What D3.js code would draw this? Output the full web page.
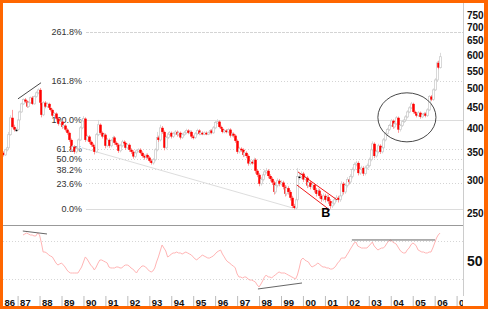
<!DOCTYPE html>
<html>
<head>
<meta charset="utf-8">
<script src="https://cdnjs.cloudflare.com/ajax/libs/d3/7.8.5/d3.min.js"></script>
<style>
html, body { margin: 0; padding: 0; background: #fff; }
svg { display: block; font-family: "Liberation Sans", Arial, sans-serif; }
</style>
</head>
<body>
<svg class="main" width="488" height="309"></svg>
<script>
// monthly candles, first one is May 1986
var startYear = 1986,
    startMonth = 4,
    firstOpen = 349;

var closes = [
    345, 355, 359, 386, 424, 403, 397, 397,
    419, 438, 458, 469, 464, 451, 461, 474, 458, 477, 487, 495,
    461, 431, 461, 451, 458, 448, 443, 429, 434, 422, 410, 415,
    403, 406, 397, 390, 375, 355, 361, 351, 357, 375, 401, 417,
    422, 375, 382, 371, 365, 361, 351, 386, 408, 390, 382, 386,
    363, 375, 363, 373, 380, 369, 365, 353, 363, 371, 369, 359,
    365, 355, 351, 342, 349, 353, 355, 349, 343, 340, 345, 340,
    334, 330, 336, 355, 380, 375, 401, 392, 359, 380, 388, 390,
    382, 388, 392, 386, 390, 380, 386, 390, 395, 390, 392, 382,
    380, 388, 395, 388, 390, 388, 390, 388, 390, 395, 390, 401,
    413, 415, 403, 399, 392, 395, 392, 397, 384, 388, 384, 373,
    351, 357, 355, 345, 349, 343, 329, 332, 330, 336, 316, 309,
    294, 301, 309, 314, 316, 307, 302, 296, 281, 291, 299, 294,
    296, 289, 278, 287, 281, 272, 260, 257, 269, 306, 306, 311,
    301, 304, 291, 296, 289, 292, 284, 278, 283, 275, 270, 275,
    269, 273, 267, 260, 264, 269, 272, 269, 275, 294, 281, 291,
    301, 297, 306, 318, 327, 330, 312, 318, 321, 311, 321, 325,
    336, 355, 367, 343, 351, 363, 351, 359, 375, 388, 397, 406,
    417, 403, 410, 424, 397, 406, 415, 419, 426, 438, 448, 458,
    438, 434, 429, 436, 426, 431, 434, 429, 443, 477, 469, 495,
    523, 575, 560, 595
];

var highs = [
    352, 357, 362, 392, 430, 443, 408, 401,
    421, 441, 461, 472, 473, 467, 464, 477, 478, 480, 491, 499,
    500, 464, 465, 465, 462, 461, 451, 446, 437, 437, 425, 418,
    418, 409, 409, 400, 393, 378, 364, 364, 360, 378, 405, 421,
    428, 425, 386, 385, 374, 368, 364, 390, 419, 411, 393, 390,
    389, 379, 378, 377, 384, 383, 372, 368, 367, 375, 374, 372,
    368, 368, 358, 354, 352, 356, 358, 358, 352, 346, 348, 348,
    343, 337, 339, 358, 392, 384, 408, 405, 395, 384, 392, 394,
    393, 392, 396, 395, 394, 393, 390, 394, 399, 398, 396, 395,
    385, 392, 399, 398, 393, 393, 393, 393, 393, 398, 398, 405,
    417, 421, 418, 406, 402, 398, 398, 400, 400, 391, 391, 387,
    376, 361, 360, 358, 353, 352, 346, 336, 335, 340, 339, 319,
    312, 305, 313, 318, 321, 319, 310, 305, 299, 295, 303, 302,
    300, 299, 292, 291, 290, 284, 275, 263, 273, 321, 312, 315,
    314, 308, 307, 300, 299, 296, 295, 287, 287, 286, 278, 279,
    278, 277, 276, 270, 268, 273, 276, 275, 279, 298, 297, 295,
    305, 304, 310, 322, 331, 334, 333, 322, 325, 324, 325, 329,
    340, 359, 372, 370, 355, 367, 366, 363, 379, 392, 401, 410,
    421, 420, 414, 428, 427, 410, 419, 423, 430, 442, 452, 463,
    461, 441, 437, 440, 439, 435, 438, 437, 447, 481, 481, 499,
    528, 580, 582, 608
];

var lows = [
    342, 343, 352, 357, 384, 400, 393, 392,
    395, 416, 436, 455, 460, 448, 448, 458, 455, 456, 474, 483,
    455, 425, 428, 447, 448, 444, 439, 425, 426, 418, 406, 407,
    399, 400, 393, 386, 371, 351, 352, 347, 348, 355, 373, 398,
    414, 371, 372, 367, 361, 357, 346, 349, 383, 386, 378, 379,
    358, 360, 359, 360, 370, 365, 361, 349, 350, 360, 366, 355,
    356, 351, 347, 338, 339, 346, 350, 346, 340, 336, 337, 337,
    331, 327, 327, 333, 352, 371, 372, 388, 354, 356, 377, 385,
    378, 379, 385, 382, 383, 376, 377, 383, 387, 387, 387, 378,
    376, 377, 385, 385, 385, 385, 385, 385, 385, 387, 387, 388,
    398, 410, 400, 396, 389, 389, 389, 389, 380, 381, 380, 369,
    347, 348, 351, 341, 342, 339, 325, 326, 327, 327, 311, 305,
    290, 291, 298, 306, 311, 303, 298, 292, 277, 278, 288, 290,
    291, 285, 274, 275, 277, 268, 257, 255, 255, 266, 300, 302,
    297, 298, 287, 288, 285, 286, 280, 274, 275, 271, 266, 267,
    265, 266, 263, 256, 257, 261, 266, 265, 266, 272, 277, 278,
    288, 293, 294, 303, 315, 324, 308, 309, 315, 307, 308, 318,
    322, 333, 352, 339, 340, 348, 347, 348, 356, 372, 385, 394,
    403, 399, 400, 407, 390, 393, 403, 412, 416, 423, 435, 445,
    434, 430, 425, 426, 422, 423, 428, 425, 426, 440, 465, 466,
    492, 520, 555, 557
];

// indicator, starts with the 12th candle (Apr 1987)
var rsiStart = 11;
var rsi = [
    76.3, 77.4, 78.4, 77.4, 76.3, 76.3, 75.3, 75.3, 78.4,
    76.3, 67.9, 58.4, 58.4, 57.4, 55.3, 54.2, 53.2, 50, 46.8, 44.7, 45.8,
    46.8, 44.7, 42.6, 39.5, 37.4, 36.3, 36.3, 36.3, 36.3, 36.3, 39.5, 42.6,
    47.9, 53.2, 51.1, 47.9, 44.7, 42.6, 39.5, 42.6, 46.8, 50, 50, 48.9,
    47.9, 46.8, 42.6, 41.6, 41.6, 41.6, 42.6, 42.6, 41.6, 41.6, 43.7, 44.7,
    44.7, 43.7, 41.6, 40.5, 38.4, 36.3, 39.5, 41.6, 43.7, 43.7, 42.6, 40.5,
    38.4, 37.4, 38.4, 41.6, 47.9, 53.2, 59.5, 65.8, 62.6, 59.5, 53.2, 54.2,
    56.3, 57.4, 57.4, 58.4, 57.4, 57.4, 56.3, 57.4, 58.4, 57.4, 56.3, 55.3,
    53.2, 51.1, 50, 52.1, 53.2, 55.3, 54.2, 53.2, 52.1, 52.1, 53.2, 54.2,
    56.3, 58.4, 59.5, 60.5, 56.3, 53.2, 50, 47.9, 46.8, 44.7, 43.7, 41.6,
    35.3, 32.1, 32.1, 31.1, 32.1, 32.1, 30, 28.9, 28.9, 27.9, 26.8, 23.7,
    21.6, 24.7, 27.9, 32.1, 34.2, 32.1, 32.1, 31.1, 33.2, 34.2, 36.3, 37.4,
    36.3, 36.3, 36.3, 35.3, 34.2, 33.2, 32.1, 31.1, 30, 34.2, 41.6, 50,
    52.1, 50, 48.9, 47.9, 44.7, 42.6, 43.7, 44.7, 46.8, 45.8, 43.7, 42.6,
    42.6, 41.6, 41.6, 40.5, 40.5, 41.6, 43.7, 46.8, 48.9, 52.1, 52.1, 52.1,
    55.3, 58.4, 61.6, 64.7, 67.9, 68.9, 64.7, 63.7, 62.6, 62.6, 62.6, 62.6,
    64.7, 66.8, 68.9, 64.7, 62.6, 60.5, 61.6, 62.6, 62.6, 64.7, 67.9, 70,
    71.1, 68.9, 67.9, 66.8, 63.7, 60.5, 58.4, 57.4, 57.4, 60.5, 62.6, 65.8,
    67.9, 66.8, 64.7, 60.5, 59.5, 58.4, 58.4, 57.4, 57.4, 58.4, 58.4, 62.6,
    67.9, 73.2, 76.3, 78.4
];

var priceTicks = [250, 300, 350, 400, 450, 500, 550, 600, 650, 700, 750];
var rsiTicks = [50];
var rsiGrid = [30, 70];
var years = d3.range(1986, 2008);

// retracement from the 1999 low to the 1990 high
var fibLow = 256,
    fibHigh = 419;
var fibLevels = [0, 0.236, 0.382, 0.5, 0.618, 1, 1.618, 2.618];
var fibLabels = ["0.0%", "23.6%", "38.2%", "50.0%", "61.8%", "100.0%", "161.8%", "261.8%"];

// hand drawn annotations, [month index, value]
var priceLines = [
    { from: [8.2, 471], to: [20.8, 515], color: "#333" },
    { from: [43.2, 359], to: [158.6, 257], color: "#d4d4d4" },
    { from: [161.3, 314], to: [182.6, 269], color: "#e00" },
    { from: [160.7, 292], to: [178.8, 254], color: "#e00" }
];
var rsiLines = [
    { from: [10.9, 80.5], to: [24.1, 77.4] },
    { from: [139.4, 19.5], to: [163.5, 25.8] },
    { from: [190.8, 71.1], to: [236.2, 71.1] }
];
var circleBox = { m: [205, 236.7], p: [371, 487] };
var markLabel = { text: "B", m: 174, p: 244 };

var layout = {
    left: 3,
    right: 463,
    panelTop: 225,
    axisY: 296,
    border: "#ff6600"
};

var svg = d3.select(".main");

var x = d3.scaleTime()
    .domain([new Date(1987, 0, 1), new Date(2007, 0, 1)])
    .range([17.6, 456.6]);
var y = d3.scaleLog().domain([250, 750]).range([213, 15]);
var yr = d3.scaleLinear().domain([30, 70]).range([279, 241]);

function monthDate(i) {
    return new Date(startYear, startMonth + i, 1);
}

function monthX(m) {
    var f = Math.floor(m);
    var x0 = x(monthDate(f)), x1 = x(monthDate(f + 1));
    return x0 + (x1 - x0) * (m - f);
}

var candles = closes.map(function(c, i) {
    return {
        date: monthDate(i),
        open: i ? closes[i - 1] : firstOpen,
        close: c,
        high: highs[i],
        low: lows[i]
    };
});

svg.append("rect").attr("width", 488).attr("height", 309).attr("fill", "#fff");

svg.append("defs").append("clipPath").attr("id", "plot")
    .append("rect")
    .attr("x", layout.left).attr("y", 3)
    .attr("width", layout.right - layout.left).attr("height", 304);

var plot = svg.append("g").attr("clip-path", "url(#plot)");

/**
 * Fibonacci levels
 */
var fib = fibLevels.map(function(l, i) {
    return { level: l, label: fibLabels[i], price: fibLow + l * (fibHigh - fibLow) };
});

plot.selectAll(".fib")
    .data(fib)
    .enter()
    .append("line")
    .attr("x1", 86)
    .attr("x2", layout.right)
    .attr("y1", function(d) { return Math.round(y(d.price)) + 0.5; })
    .attr("y2", function(d) { return Math.round(y(d.price)) + 0.5; })
    .attr("stroke", function(d) { return (d.level === 0 || d.level === 1) ? "#dcdcdc" : "#d4d4d4"; })
    .attr("stroke-dasharray", function(d) {
        if (d.level === 0 || d.level === 1) return null;
        return d.level > 2 ? "3,1" : "1,2";
    });

plot.selectAll(".fib-label")
    .data(fib)
    .enter()
    .append("text")
    .attr("x", 82)
    .attr("y", function(d) { return y(d.price); })
    .attr("dy", "0.35em")
    .attr("text-anchor", "end")
    .style("font-size", "9px")
    .style("fill", "#333")
    .text(function(d) { return d.label; });

/**
 * Indicator panel frame
 */
plot.append("line")
    .attr("x1", layout.left).attr("x2", layout.right)
    .attr("y1", layout.panelTop + 0.5).attr("y2", layout.panelTop + 0.5)
    .attr("stroke", "#999");

plot.selectAll(".rsi-grid")
    .data(rsiGrid)
    .enter()
    .append("line")
    .attr("x1", layout.left).attr("x2", layout.right)
    .attr("y1", function(d) { return Math.round(yr(d)) + 0.5; })
    .attr("y2", function(d) { return Math.round(yr(d)) + 0.5; })
    .attr("stroke", "#d6d6d6")
    .attr("stroke-dasharray", "1,2");

svg.append("line")
    .attr("x1", layout.right + 0.5).attr("x2", layout.right + 0.5)
    .attr("y1", 3).attr("y2", layout.axisY)
    .attr("stroke", "#ccc");

// long trend line sits behind the candles
plot.append("line")
    .datum(priceLines[1])
    .attr("x1", function(d) { return monthX(d.from[0]); })
    .attr("y1", function(d) { return y(d.from[1]); })
    .attr("x2", function(d) { return monthX(d.to[0]); })
    .attr("y2", function(d) { return y(d.to[1]); })
    .attr("stroke", function(d) { return d.color; })
    .attr("stroke-width", 0.8);

/**
 * Candles
 */
var candle = plot.selectAll(".candle")
    .data(candles)
    .enter()
    .append("g");

candle.append("line")
    .attr("x1", function(d) { return Math.round(x(d.date)) + 0.5; })
    .attr("x2", function(d) { return Math.round(x(d.date)) + 0.5; })
    .attr("y1", function(d) { return y(d.high); })
    .attr("y2", function(d) { return y(d.low); })
    .attr("stroke", function(d) { return d.close < d.open ? "#ff8080" : "#d0d0d0"; })
    .attr("stroke-width", 0.8);

candle.append("rect")
    .attr("x", function(d) { return Math.round(x(d.date)) - (d.close < d.open ? 0.75 : 0.5); })
    .attr("width", function(d) { return d.close < d.open ? 2.5 : 2; })
    .attr("y", function(d) { return y(Math.max(d.open, d.close)); })
    .attr("height", function(d) {
        return Math.max(1.5, Math.abs(y(d.open) - y(d.close)));
    })
    .attr("fill", function(d) {
        if (d.close === d.open) return "#000";
        return d.close < d.open ? "#ff0000" : "#fff";
    })
    .attr("stroke", function(d) { return d.close > d.open ? "#c8c8c8" : "none"; })
    .attr("stroke-width", 0.7);

/**
 * Annotations
 */
plot.selectAll(".trend")
    .data([priceLines[0], priceLines[2], priceLines[3]])
    .enter()
    .append("line")
    .attr("x1", function(d) { return monthX(d.from[0]); })
    .attr("y1", function(d) { return y(d.from[1]); })
    .attr("x2", function(d) { return monthX(d.to[0]); })
    .attr("y2", function(d) { return y(d.to[1]); })
    .attr("stroke", function(d) { return d.color; })
    .attr("stroke-width", 0.9);

plot.append("ellipse")
    .datum(circleBox)
    .attr("cx", function(d) { return (monthX(d.m[0]) + monthX(d.m[1])) / 2; })
    .attr("cy", function(d) { return (y(d.p[0]) + y(d.p[1])) / 2; })
    .attr("rx", function(d) { return (monthX(d.m[1]) - monthX(d.m[0])) / 2; })
    .attr("ry", function(d) { return (y(d.p[0]) - y(d.p[1])) / 2; })
    .attr("fill", "none")
    .attr("stroke", "#333")
    .attr("stroke-width", 0.9);

plot.append("text")
    .attr("x", monthX(markLabel.m))
    .attr("y", y(markLabel.p))
    .style("font-size", "12.5px")
    .style("font-weight", "bold")
    .style("fill", "#000")
    .text(markLabel.text);

/**
 * Indicator
 */
var rsiLine = d3.line()
    .x(function(d, i) { return x(monthDate(rsiStart + i)); })
    .y(function(d) { return yr(d); });

plot.append("path")
    .datum(rsi)
    .attr("d", rsiLine)
    .attr("fill", "none")
    .attr("stroke", "#ffb4b4")
    .attr("stroke-width", 1);

plot.selectAll(".rsi-trend")
    .data(rsiLines)
    .enter()
    .append("line")
    .attr("x1", function(d) { return monthX(d.from[0]); })
    .attr("y1", function(d) { return yr(d.from[1]); })
    .attr("x2", function(d) { return monthX(d.to[0]); })
    .attr("y2", function(d) { return yr(d.to[1]); })
    .attr("stroke", "#555")
    .attr("stroke-width", 0.9);

/**
 * Axes
 */
var yAxis = svg.append("g")
    .attr("transform", "translate(" + layout.right + ",0)")
    .call(d3.axisRight(y).tickValues(priceTicks).tickSize(0).tickPadding(4).tickFormat(d3.format("d")));
yAxis.select(".domain").remove();
yAxis.selectAll("text")
    .style("font-size", "10px")
    .style("font-weight", "bold")
    .style("font-family", "Liberation Sans, Arial, sans-serif")
    .style("fill", "#111");

var rAxis = svg.append("g")
    .attr("transform", "translate(" + layout.right + ",1.5)")
    .call(d3.axisRight(yr).tickValues(rsiTicks).tickSize(0).tickPadding(4));
rAxis.select(".domain").remove();
rAxis.selectAll("text")
    .style("font-size", "14px")
    .style("font-weight", "bold")
    .style("font-family", "Liberation Sans, Arial, sans-serif")
    .style("fill", "#111");

var xAxis = plot.append("g")
    .attr("transform", "translate(0," + layout.axisY + ")")
    .call(d3.axisBottom(x)
        .tickValues(years.map(function(yy) { return new Date(yy, 0, 1); }))
        .tickSize(10)
        .tickSizeOuter(0)
        .tickFormat(d3.timeFormat("%y")));
xAxis.select(".domain").remove();
xAxis.selectAll(".tick line").attr("stroke", "#bbb");
xAxis.selectAll(".tick text")
    .attr("text-anchor", "start")
    .attr("x", function(d) { return Math.max(2, layout.left + 1 - x(d)); })
    .attr("y", 9.5)
    .attr("dy", 0)
    .style("font-size", "9.5px")
    .style("font-weight", "bold")
    .style("font-family", "Liberation Sans, Arial, sans-serif")
    .style("fill", "#111");

/**
 * Orange frame
 */
svg.append("rect").attr("x", 0).attr("y", 0).attr("width", 488).attr("height", 3).attr("fill", layout.border);
svg.append("rect").attr("x", 0).attr("y", 0).attr("width", 3).attr("height", 309).attr("fill", layout.border);
svg.append("rect").attr("x", 484).attr("y", 0).attr("width", 4).attr("height", 309).attr("fill", layout.border);
svg.append("rect").attr("x", 0).attr("y", 306).attr("width", 488).attr("height", 3).attr("fill", layout.border);
</script>
</body>
</html>
